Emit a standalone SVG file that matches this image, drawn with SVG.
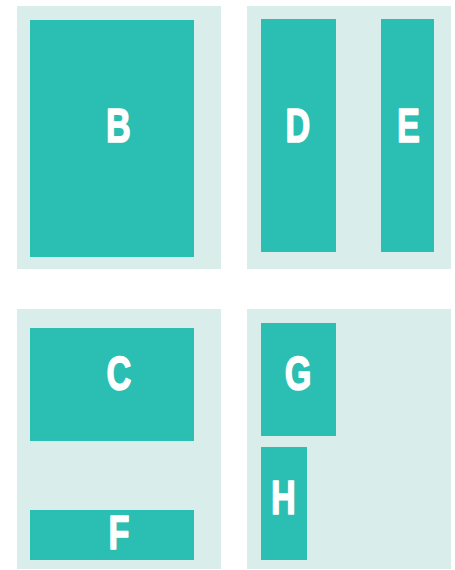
<svg xmlns="http://www.w3.org/2000/svg" width="455" height="570" viewBox="0 0 455 570">
<style>
.panel{fill:#D9EEEB}
.box{fill:#2BBEB2}
.lbl{fill:#FFFFFF;stroke:#FFFFFF;stroke-width:1.6px;stroke-linejoin:round;font-family:"Liberation Sans",Arial,sans-serif;font-weight:bold;font-size:49px;text-anchor:middle}
</style>
<rect width="455" height="570" fill="#FFFFFF"/>
<g id="panel1"><rect class="panel" x="17" y="6" width="204" height="263"/></g>
<g id="panel2"><rect class="panel" x="247" y="6" width="204" height="263"/></g>
<g id="panel3"><rect class="panel" x="17" y="309" width="204" height="260"/></g>
<g id="panel4"><rect class="panel" x="247" y="309" width="204" height="260"/></g>
<g id="B"><rect class="box" x="30" y="20" width="164" height="237"/><text class="lbl" transform="translate(118.5 142) scale(0.7 1)">B</text></g>
<g id="D"><rect class="box" x="261" y="19" width="75" height="233"/><text class="lbl" transform="translate(298 142) scale(0.7 1)">D</text></g>
<g id="E"><rect class="box" x="381" y="19" width="53" height="233"/><text class="lbl" transform="translate(408.5 142) scale(0.7 1)">E</text></g>
<g id="C"><rect class="box" x="30" y="328" width="164" height="113"/><text class="lbl" transform="translate(119 389.6) scale(0.7 1)">C</text></g>
<g id="F"><rect class="box" x="30" y="510" width="164" height="50"/><text class="lbl" transform="translate(119 548.6) scale(0.7 1)">F</text></g>
<g id="G"><rect class="box" x="261" y="323" width="75" height="113"/><text class="lbl" transform="translate(298 389.6) scale(0.7 1)">G</text></g>
<g id="H"><rect class="box" x="261" y="447" width="46" height="113"/><text class="lbl" transform="translate(283.5 514.3) scale(0.7 1)">H</text></g>
<g id="connectors"></g>
</svg>
